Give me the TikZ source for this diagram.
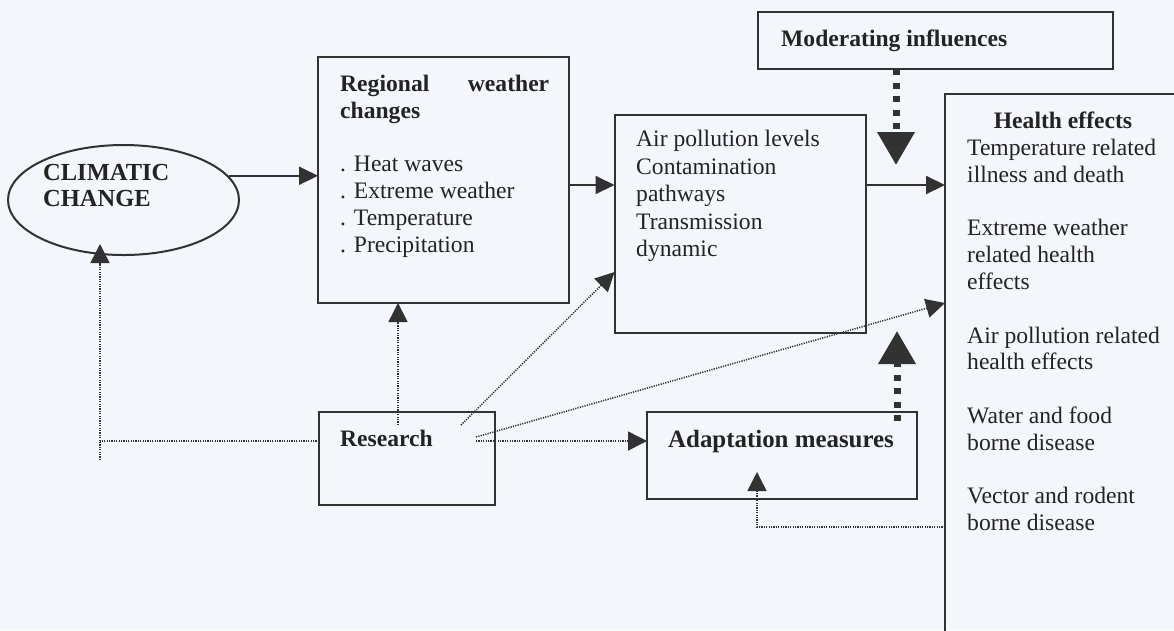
\documentclass[tikz,border=0pt]{standalone}
\usepackage{fontspec}
\setmainfont{Liberation Serif}
\usetikzlibrary{arrows.meta,shapes.geometric,calc}
\definecolor{ink}{RGB}{50,50,50}
\definecolor{txt}{RGB}{35,35,35}
\definecolor{bg}{RGB}{243,246,250}
\begin{document}
\begin{tikzpicture}[x=1pt,y=-1pt,
  box/.style={draw=ink,line width=2pt,rectangle,inner sep=0pt,outer sep=0pt},
  txtfont/.style={font=\fontsize{23.6}{26.8}\selectfont,text=txt,inner sep=0pt},
  boldfont/.style={font=\bfseries\fontsize{23.6}{26.8}\selectfont,text=txt,inner sep=0pt},
  solidarrow/.style={draw=ink,line width=2pt,-{Triangle[length=19pt,width=18pt]}},
  dotarrow/.style={draw=ink,line width=1.5pt,dash pattern=on 1.2pt off 1.2pt,-{Triangle[length=19pt,width=19pt]}},
  dotline/.style={draw=ink,line width=1.5pt,dash pattern=on 1.2pt off 1.2pt},
  bigdash/.style={draw=ink,line width=7pt,dash pattern=on 6pt off 7.5pt,-{Triangle[length=33pt,width=36pt]}}
]
\useasboundingbox (0,0) rectangle (1174,630);
\fill[bg] (0,0) rectangle (1174,630);
\clip (0,0) rectangle (1174,630);

% boxes
\node[box,minimum width=355,minimum height=57] (mod) at (935.5,40.5) {};
\node[box,minimum width=251,minimum height=246] (reg) at (443.5,180) {};
\node[box,minimum width=251,minimum height=218] (air) at (740,223.5) {};
\node[box,minimum width=252,minimum height=566] (health) at (1071,377) {};
\node[box,minimum width=176,minimum height=93] (res) at (407,458.5) {};
\node[box,minimum width=270,minimum height=87] (adapt) at (782,455.5) {};
\node[draw=ink,line width=2pt,ellipse,minimum width=231,minimum height=110,inner sep=0pt] (clim) at (123.5,200) {};

% texts
\node[boldfont,anchor=base west] (modt) at (781,46) {Moderating influences};
\node[boldfont,font=\bfseries\fontsize{24.5}{26.5}\selectfont,anchor=north west,align=left] (climt) at (43,164)
  {CLIMATIC\\CHANGE};
\node[txtfont,anchor=north west,align=left] (regt) at (340,75)
  {\makebox[209pt]{\textbf{Regional}\hfill\textbf{weather}}\\\textbf{changes}\\[26.8pt]. Heat waves\\. Extreme weather\\. Temperature\\. Precipitation};
\node[txtfont,font=\fontsize{23.6}{27.5}\selectfont,anchor=north west,align=left] (airt) at (636,130)
  {Air pollution levels\\Contamination\\pathways\\Transmission\\dynamic};
\node[boldfont,anchor=base] (healtht) at (1063,128) {Health effects};
\node[txtfont,anchor=north west,align=left] (healthb) at (967,139)
  {Temperature related\\illness and death\\[26.8pt]Extreme weather\\related health\\effects\\[26.8pt]Air pollution related\\health effects\\[26.8pt]Water and food\\borne disease\\[26.8pt]Vector and rodent\\borne disease};
\node[boldfont,anchor=base west] (rest) at (340,446) {Research};
\node[boldfont,font=\bfseries\fontsize{24.9}{26.8}\selectfont,anchor=base west] (adaptt) at (668,447) {Adaptation measures};

% solid arrows
\draw[solidarrow] (clim.13) -- (clim.13 -| reg.west);
\coordinate (r1) at ($(reg.east)+(0,5)$);
\draw[solidarrow] (r1) -- (r1 -| air.west);
\draw[solidarrow] (air.east |- r1) -- (health.west |- r1);

% thick dashed arrows
\coordinate (m1) at (896,165);
\draw[bigdash] (mod.south -| m1) -- (m1);
\coordinate (m2) at (897,331);
\draw[bigdash] ($(adapt.north -| m2)+(0,9)$) -- (m2);

% dotted arrows from research
\coordinate (q1) at ($(res.center)+(-9,-33.5)$);
\draw[dotarrow] (q1) -- (q1 |- reg.south);
\coordinate (q2) at ($(res.center)+(54,-33.5)$);
\draw[dotarrow] (q2) -- ($(air.west)+(0,48.5)$);
\coordinate (q3) at ($(res.center)+(69,-21.5)$);
\coordinate (h303) at (946,303);
\draw[dotarrow] (q3) -- (health.west |- h303);
\coordinate (q4) at ($(res.center)+(69,-17.5)$);
\draw[dotarrow] (q4) -- (q4 -| adapt.west);

% research to climatic change
\coordinate (l1) at (100,441);
\draw[dotline] (res.west |- l1) -- (l1);
\coordinate (l2) at (100,460);
\coordinate (l3) at (100,244);
\draw[dotarrow] (l2) -- (l3);

% health effects to adaptation
\coordinate (a1) at (757,527);
\draw[dotarrow] (health.west |- a1) -- (a1) -- ($(adapt.south -| a1)+(0,-27)$);
\end{tikzpicture}
\end{document}
